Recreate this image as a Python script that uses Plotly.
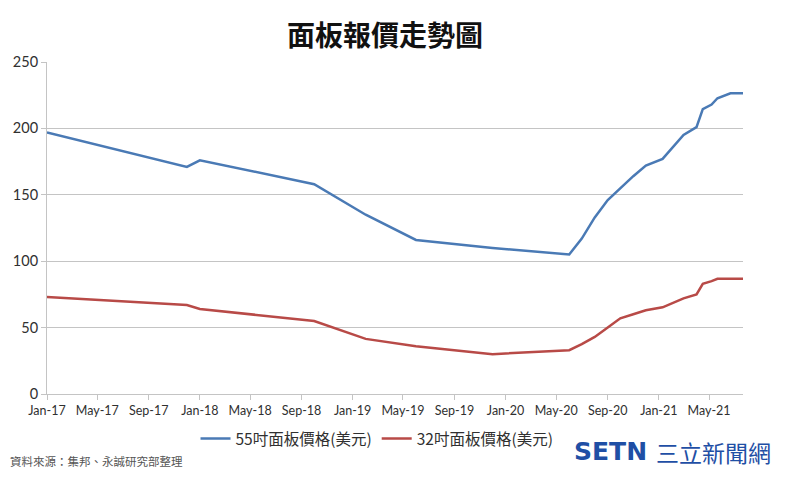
import plotly.graph_objects as go

# ---- data ----
dates = [
    "2017-01-01", "2017-12-01", "2018-01-01", "2018-10-01", "2019-02-01",
    "2019-06-01", "2019-12-01", "2020-06-01", "2020-07-01", "2020-08-01",
    "2020-09-01", "2020-10-01", "2020-11-01", "2020-12-01", "2021-01-10",
    "2021-03-01", "2021-04-01", "2021-04-16", "2021-05-07", "2021-05-21",
    "2021-06-21", "2021-07-21",
]
panel_55 = [197, 171, 176, 158, 135, 116, 110, 105, 117, 133,
            146, 155, 164, 172, 177, 195, 201, 214.5, 218, 222.7,
            226.5, 226.5]
panel_32 = [73, 67, 64, 55, 41.5, 36, 30, 33, 37.5, 43,
            50, 57, 60, 63, 65.3, 72, 75, 83, 85, 86.8,
            86.8, 86.8]
series_names = ["55吋面板價格(美元)", "32吋面板價格(美元)"]
title_text = "面板報價走勢圖"
source_text = "資料來源：集邦、永誠研究部整理"

BLUE = "#4a7ab5"
RED = "#b84a47"
GRID = "#c4c4c4"
TXT = "#303030"

fig = go.Figure()
fig.add_trace(go.Scatter(x=dates, y=panel_55, mode="lines", name=series_names[0],
                         line=dict(color=BLUE, width=2.5)))
fig.add_trace(go.Scatter(x=dates, y=panel_32, mode="lines", name=series_names[1],
                         line=dict(color=RED, width=2.5)))

L, R, T, B = 46.7, 743.3, 62.1, 394.1
W, H = 800, 486

def px_x(p):
    return (p - L) / (R - L)

def px_y(p):
    return (B - p) / (B - T)

fig.update_layout(
    width=W, height=H,
    margin=dict(l=L, r=W - R, t=T, b=H - B, pad=0),
    paper_bgcolor="white", plot_bgcolor="white",
    font=dict(family="Lato, 'Noto Sans CJK TC', sans-serif", color=TXT),
    title=dict(text="<b>" + title_text + "</b>", x=px_x(385), xref="paper",
               xanchor="center", y=1 - 36 / H, yanchor="middle",
               font=dict(family="'Noto Sans CJK TC', sans-serif", size=28, color="#111111")),
    showlegend=True,
    legend=dict(orientation="h", x=px_x(377), xanchor="center", y=px_y(439), yanchor="middle",
                font=dict(family="'Noto Sans CJK TC', sans-serif", size=15.5, color=TXT),
                itemwidth=30, bgcolor="rgba(0,0,0,0)", traceorder="normal"),
    xaxis=dict(type="date", range=["2017-01-01", "2021-07-21"],
               tick0="2017-01-01", dtick="M4", tickformat="%b-%y",
               showgrid=False, showline=True, linecolor=GRID, linewidth=1,
               ticks="outside", ticklen=5, tickcolor=GRID,
               tickfont=dict(family="Lato, sans-serif", size=12.5, color=TXT),
               zeroline=False, fixedrange=True),
    yaxis=dict(range=[0, 250], dtick=50, tick0=0,
               showgrid=True, gridcolor=GRID, gridwidth=1,
               showline=True, linecolor=GRID, linewidth=1,
               ticks="outside", ticklen=5, tickcolor=GRID,
               tickfont=dict(family="Lato, sans-serif", size=14.5, color=TXT),
               zeroline=False, fixedrange=True),
)

fig.add_annotation(text=source_text, xref="paper", yref="paper",
                   x=px_x(8), y=px_y(461), xanchor="left", yanchor="middle",
                   showarrow=False,
                   font=dict(family="'Noto Sans CJK TC', sans-serif", size=11.5, color="#555555"))
fig.add_annotation(text="<b>SETN</b>", xref="paper", yref="paper",
                   x=px_x(572), y=px_y(452), xanchor="left", yanchor="middle",
                   showarrow=False,
                   font=dict(family="'DejaVu Sans', sans-serif", size=25, color="#1f4fa5"))
fig.add_annotation(text="三立新聞網", xref="paper", yref="paper",
                   x=px_x(773), y=px_y(452), xanchor="right", yanchor="middle",
                   showarrow=False,
                   font=dict(family="'Noto Sans CJK TC', sans-serif", size=23, color="#1f4fa5"))

fig.write_html("out.html", config={"displayModeBar": False},
               post_script="document.body.style.margin='0';document.body.style.padding='0';")
